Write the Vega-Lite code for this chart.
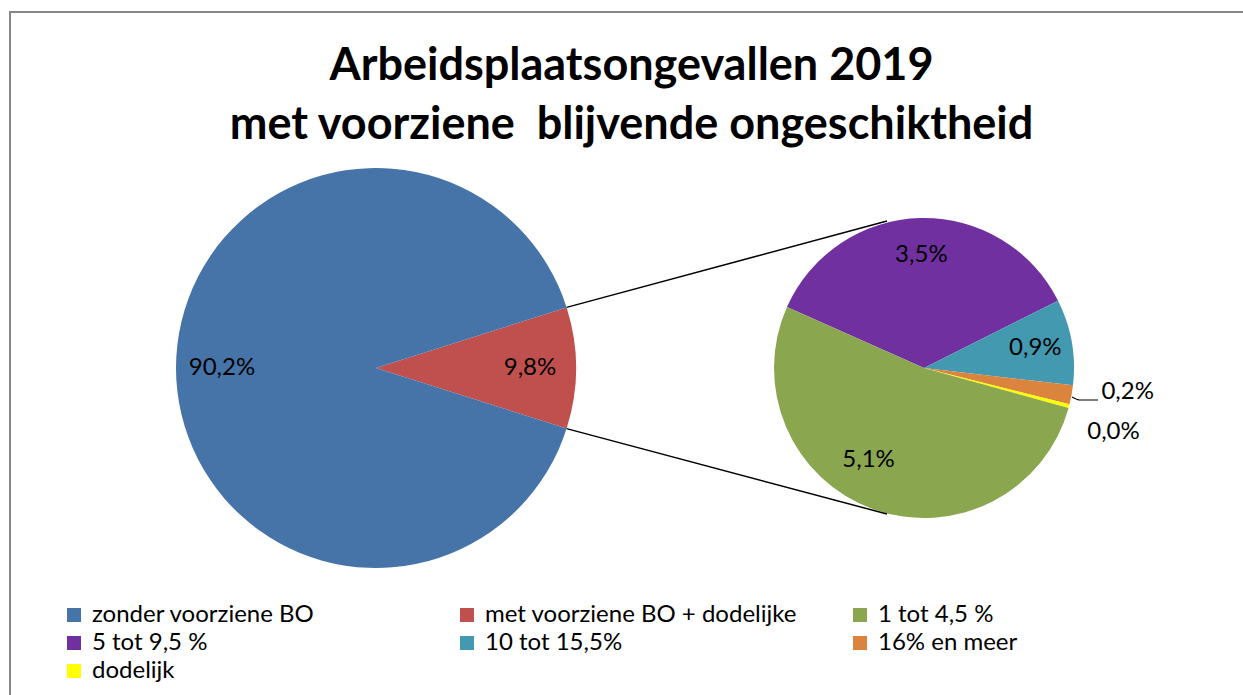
{
  "$schema": "https://vega.github.io/schema/vega-lite/v6.json",
  "width": 1233,
  "height": 683,
  "autosize": {"type": "none"},
  "padding": {"left": 10, "top": 12, "right": 0, "bottom": 0},
  "background": "white",
  "title": {
    "text": ["Arbeidsplaatsongevallen 2019", "met voorziene\u00a0 blijvende ongeschiktheid"],
    "anchor": "middle",
    "font": "Lato",
    "fontWeight": "bold",
    "fontSize": 45,
    "lineHeight": 59,
    "color": "black",
    "baseline": "top",
    "offset": -136,
    "dx": 5
  },
  "config": {
    "view": {"stroke": "#868686", "strokeWidth": 2, "strokeDash": [1233, 1916, 683, 10]},
    "locale": {"number": {"decimal": ",", "thousands": ".", "grouping": [3], "currency": ["€", ""]}},
    "text": {"font": "Lato", "fontSize": 24, "color": "black"}
  },
  "datasets": {
    "main": [
      {"cat": "met voorziene BO + dodelijke", "v": 0.098, "o": 1},
      {"cat": "zonder voorziene BO", "v": 0.902, "o": 2}
    ],
    "second": [
      {"cat": "5 tot 9,5 %", "v": 0.035, "o": 1},
      {"cat": "10 tot 15,5%", "v": 0.009, "o": 2},
      {"cat": "16% en meer", "v": 0.002, "o": 3},
      {"cat": "dodelijk", "v": 0.0004, "o": 4},
      {"cat": "1 tot 4,5 %", "v": 0.051, "o": 5}
    ],
    "connectors": [
      {"x1": 1.906, "y1": 0.606, "x2": 5.11, "y2": 1.47},
      {"x1": 1.906, "y1": -0.606, "x2": 5.11, "y2": -1.46}
    ],
    "leader": [
      {"lx": 6.96, "ly": -0.29, "k": 1},
      {"lx": 7.04, "ly": -0.32, "k": 2},
      {"lx": 7.22, "ly": -0.32, "k": 3}
    ]
  },
  "layer": [
    {
      "data": {"name": "main"},
      "encoding": {
        "x": {"datum": 0, "type": "quantitative", "scale": {"domain": [-3.66, 8.67], "zero": false, "nice": false}, "axis": null},
        "y": {"datum": 0, "type": "quantitative", "scale": {"domain": [-3.27, 3.56], "zero": false, "nice": false}, "axis": null},
        "theta": {"field": "v", "type": "quantitative", "stack": true, "scale": {"range": [1.2629, 7.5461]}},
        "order": {"field": "o", "type": "quantitative"}
      },
      "layer": [
        {
          "mark": {"type": "arc", "outerRadius": 200},
          "encoding": {
            "color": {
              "field": "cat",
              "type": "nominal",
              "sort": ["zonder voorziene BO", "met voorziene BO + dodelijke", "1 tot 4,5 %", "5 tot 9,5 %", "10 tot 15,5%", "16% en meer", "dodelijk"],
              "scale": {
                "domain": ["zonder voorziene BO", "met voorziene BO + dodelijke", "1 tot 4,5 %", "5 tot 9,5 %", "10 tot 15,5%", "16% en meer", "dodelijk"],
                "range": ["#4673A8", "#C0504D", "#8AA64F", "#7030A0", "#4299B0", "#DB843D", "#FFFF00"]
              },
              "legend": {
                "title": null,
                "orient": "none",
                "legendX": 52,
                "legendY": 591,
                "columns": 3,
                "direction": "horizontal",
                "gridAlign": "all",
                "columnPadding": 50,
                "rowPadding": 4,
                "padding": 0,
                "symbolType": "square",
                "symbolSize": 196,
                "symbolStrokeWidth": 0,
                "symbolOpacity": 1,
                "labelFont": "Lato",
                "labelFontSize": 24,
                "labelColor": "black",
                "labelOffset": 6,
                "labelLimit": 450
              }
            }
          }
        },
        {
          "mark": {"type": "text", "radius": 154},
          "encoding": {
            "text": {"field": "v", "type": "quantitative", "format": ".1%"}
          }
        }
      ]
    },
    {
      "data": {"name": "second"},
      "encoding": {
        "x": {"datum": 5.48, "type": "quantitative"},
        "y": {"datum": 0, "type": "quantitative"},
        "theta": {"field": "v", "type": "quantitative", "stack": true, "scale": {"range": [5.131, 11.414]}},
        "order": {"field": "o", "type": "quantitative"}
      },
      "layer": [
        {
          "mark": {"type": "arc", "outerRadius": 150},
          "encoding": {
            "color": {
              "field": "cat",
              "type": "nominal",
              "sort": ["zonder voorziene BO", "met voorziene BO + dodelijke", "1 tot 4,5 %", "5 tot 9,5 %", "10 tot 15,5%", "16% en meer", "dodelijk"],
              "scale": {
                "domain": ["zonder voorziene BO", "met voorziene BO + dodelijke", "1 tot 4,5 %", "5 tot 9,5 %", "10 tot 15,5%", "16% en meer", "dodelijk"],
                "range": ["#4673A8", "#C0504D", "#8AA64F", "#7030A0", "#4299B0", "#DB843D", "#FFFF00"]
              }
            }
          }
        },
        {
          "mark": {"type": "text", "radius": 113},
          "encoding": {
            "text": {"field": "v", "type": "quantitative", "format": ".1%", "condition": {"test": "datum.v < 0.005 || datum.v > 0.04", "value": ""}}
          }
        },
        {
          "mark": {"type": "text", "radius": 108, "dx": -19, "dy": -10},
          "encoding": {
            "text": {"field": "v", "type": "quantitative", "format": ".1%", "condition": {"test": "datum.v < 0.04", "value": ""}}
          }
        },
        {
          "mark": {"type": "text", "radius": 207, "dy": -13},
          "encoding": {
            "text": {"field": "v", "type": "quantitative", "format": ".1%", "condition": {"test": "datum.v != 0.002", "value": ""}}
          }
        },
        {
          "mark": {"type": "text", "radius": 198, "dx": -2, "dy": 14},
          "encoding": {
            "text": {"field": "v", "type": "quantitative", "format": ".1%", "condition": {"test": "datum.v != 0.0004", "value": ""}}
          }
        }
      ]
    },
    {
      "data": {"name": "connectors"},
      "mark": {"type": "rule", "color": "black", "strokeWidth": 1.5},
      "encoding": {
        "x": {"field": "x1", "type": "quantitative"},
        "y": {"field": "y1", "type": "quantitative"},
        "x2": {"field": "x2"},
        "y2": {"field": "y2"}
      }
    },
    {
      "data": {"name": "leader"},
      "mark": {"type": "line", "color": "black", "strokeWidth": 1.2, "interpolate": "monotone"},
      "encoding": {
        "x": {"field": "lx", "type": "quantitative"},
        "y": {"field": "ly", "type": "quantitative"},
        "order": {"field": "k", "type": "quantitative"}
      }
    }
  ],
  "resolve": {"scale": {"theta": "independent"}}
}
